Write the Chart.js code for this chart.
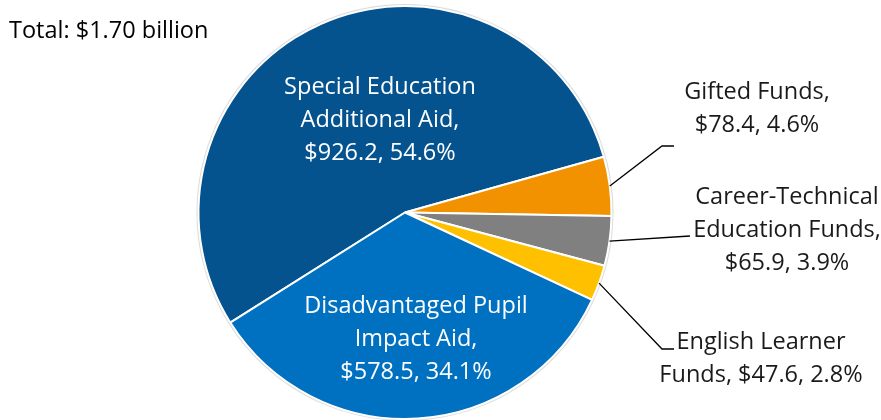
<!DOCTYPE html>
<html>
<head>
<meta charset="utf-8">
<script src="https://cdn.jsdelivr.net/npm/chart.js@4.4.1/dist/chart.umd.min.js"></script>
<style>
  html, body { margin: 0; padding: 0; background: #fff; }
  #wrap { width: 881px; height: 420px; position: relative; }
</style>
</head>
<body>
<div id="wrap"><canvas id="fundsChart"></canvas></div>
<script>
const categories = [
  "Special Education Additional Aid",
  "Gifted Funds",
  "Career-Technical Education Funds",
  "English Learner Funds",
  "Disadvantaged Pupil Impact Aid"
];
const amounts = [926.2, 78.4, 65.9, 47.6, 578.5];
const shares = ["54.6%", "4.6%", "3.9%", "2.8%", "34.1%"];
const totalLabel = "Total: $1.70 billion";

// how each label is broken into lines
const labelLines = [
  ["Special Education", "Additional Aid,", "$926.2, 54.6%"],
  ["Gifted Funds,", "$78.4, 4.6%"],
  ["Career-Technical", "Education Funds,", "$65.9, 3.9%"],
  ["English Learner", "Funds, $47.6, 2.8%"],
  ["Disadvantaged Pupil", "Impact Aid,", "$578.5, 34.1%"]
];

const colors = ["#04538F", "#F39200", "#808080", "#FFC000", "#0070C0"];
const FONT = "23.5px 'Open Sans', sans-serif";
const LINE_H = 33;

// label placement (x centre, y of first line), leader elbow if outside
const labelPos = [
  { x: 380, y: 87, inside: true },
  { x: 757, y: 92, elbow: [662, 146, 674] },
  { x: 787, y: 197, elbow: [690, 236, 690] },
  { x: 761, y: 342, elbow: [662, 349, 674] },
  { x: 416, y: 306, inside: true }
];

const pieLabels = {
  id: "pieLabels",
  beforeDatasetsDraw(chart) {
    const arc = chart.getDatasetMeta(0).data[0];
    const ctx = chart.ctx;
    ctx.save();
    ctx.beginPath();
    ctx.arc(arc.x, arc.y, arc.outerRadius + 1, 0, Math.PI * 2);
    ctx.strokeStyle = "#dcdcdc";
    ctx.lineWidth = 2;
    ctx.stroke();
    ctx.restore();
  },
  afterDraw(chart) {
    const ctx = chart.ctx;
    const meta = chart.getDatasetMeta(0);
    ctx.save();
    ctx.font = FONT;
    ctx.textBaseline = "middle";

    ctx.fillStyle = "#000";
    ctx.textAlign = "left";
    ctx.fillText(totalLabel, 9, 31);

    meta.data.forEach((a, i) => {
      const p = labelPos[i];
      if (p.elbow) {
        const mid = (a.startAngle + a.endAngle) / 2;
        const sx = a.x + Math.cos(mid) * a.outerRadius;
        const sy = a.y + Math.sin(mid) * a.outerRadius;
        ctx.beginPath();
        ctx.moveTo(sx, sy);
        ctx.lineTo(p.elbow[0], p.elbow[1]);
        ctx.lineTo(p.elbow[2], p.elbow[1]);
        ctx.strokeStyle = "#000";
        ctx.lineWidth = 1.3;
        ctx.stroke();
      }
      ctx.fillStyle = p.inside ? "#fff" : "#1a1a1a";
      ctx.textAlign = "center";
      labelLines[i].forEach((t, k) => ctx.fillText(t, p.x, p.y + k * LINE_H));
    });
    ctx.restore();
  }
};

new Chart(document.getElementById("fundsChart"), {
  type: "pie",
  data: {
    labels: categories,
    datasets: [{
      data: amounts,
      backgroundColor: colors,
      borderColor: "#fff",
      borderWidth: 2
    }]
  },
  options: {
    responsive: true,
    maintainAspectRatio: false,
    animation: false,
    rotation: 237.8,
    layout: { padding: { left: 197, right: 268, top: 5, bottom: -1 } },
    plugins: {
      legend: { display: false },
      tooltip: { enabled: false }
    }
  },
  plugins: [pieLabels]
});
</script>
</body>
</html>
